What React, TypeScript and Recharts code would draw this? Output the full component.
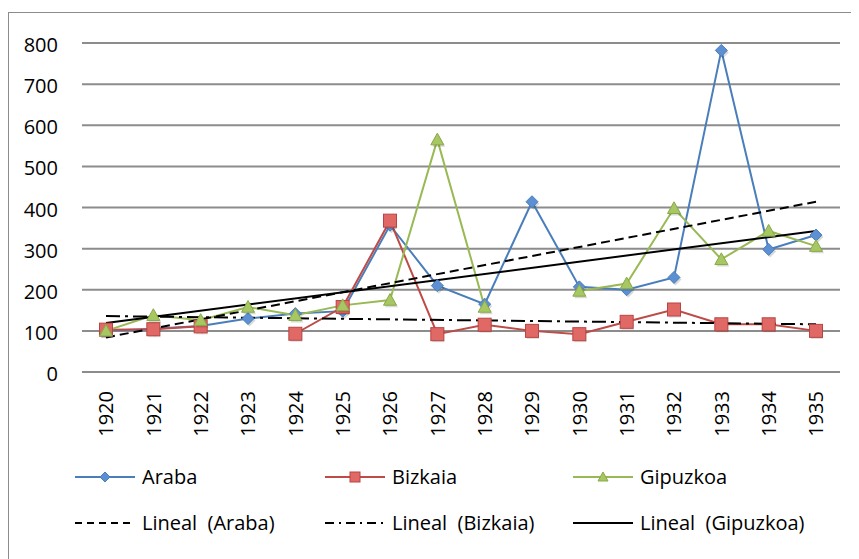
import React from "react";
import { LineChart, Line, XAxis, YAxis, CartesianGrid, ReferenceLine } from "recharts";

const years = [
  "1920", "1921", "1922", "1923", "1924", "1925", "1926", "1927",
  "1928", "1929", "1930", "1931", "1932", "1933", "1934", "1935",
];
const araba = [100, 105, 112, 130, 142, 148, 357, 210, 165, 414, 207, 200, 230, 782, 298, 333];
const bizkaia = [103, 104, 111, null, 93, 158, 368, 92, 115, 100, 92, 122, 152, 116, 116, 100];
const gipuzkoa = [100, 138, 126, 158, 138, 162, 175, 565, 158, null, 197, 215, 398, 274, 343, 306];
const yTicks = [0, 100, 200, 300, 400, 500, 600, 700, 800];

// trendline end points (first / last year)
const arabaTrend = [84, 414];
const bizkaiaTrend = [136, 116];
const gipuzkoaTrend = [119, 343];

const data = years.map((year, i) => ({
  year,
  araba: araba[i],
  bizkaia: bizkaia[i],
  gipuzkoa: gipuzkoa[i],
}));

const FONT = "'Open Sans', sans-serif";
const BLUE = "#4a7ebb";
const RED = "#be4b48";
const GREEN = "#98b954";

function diamond(cx: number, cy: number, r: number) {
  return `M${cx},${cy - r}L${cx + r},${cy}L${cx},${cy + r}L${cx - r},${cy}Z`;
}
function triangle(cx: number, cy: number, r: number) {
  return `M${cx},${cy - r}L${cx + r},${cy + r * 0.8}L${cx - r},${cy + r * 0.8}Z`;
}

const DiamondDot = (props: any) => {
  const { cx, cy, index } = props;
  if (cx == null || cy == null) return <g key={index} />;
  return (
    <g key={index}>
      <path d={diamond(cx + 1.5, cy + 2, 6)} fill="#000" opacity={0.15} />
      <path d={diamond(cx, cy, 6)} fill="#5d90d2" stroke={BLUE} strokeWidth={1} />
    </g>
  );
};

const SquareDot = (props: any) => {
  const { cx, cy, index } = props;
  if (cx == null || cy == null) return <g key={index} />;
  return (
    <g key={index}>
      <rect x={cx - 5} y={cy - 4} width={12} height={12} fill="#000" opacity={0.15} />
      <rect x={cx - 6.5} y={cy - 6.5} width={13} height={13} fill="#e06966" stroke="#b84542" strokeWidth={1} />
    </g>
  );
};

const TriangleDot = (props: any) => {
  const { cx, cy, index } = props;
  if (cx == null || cy == null) return <g key={index} />;
  return (
    <g key={index}>
      <path d={triangle(cx + 1.5, cy + 2, 6.5)} fill="#000" opacity={0.15} />
      <path d={triangle(cx, cy, 6.5)} fill="#a6c761" stroke="#8aa84a" strokeWidth={1} />
    </g>
  );
};

const YearTick = (props: any) => {
  const { x, y, payload } = props;
  return (
    <g transform={`translate(${x},${y})`}>
      <text
        transform="rotate(-90)"
        x={-11}
        dy="0.36em"
        textAnchor="end"
        fill="#000"
        fontSize={20}
        fontFamily={FONT}
      >
        {payload.value}
      </text>
    </g>
  );
};

const legendRows = [
  [
    { label: "Araba", kind: "diamond" },
    { label: "Bizkaia", kind: "square" },
    { label: "Gipuzkoa", kind: "triangle" },
  ],
  [
    { label: "Lineal  (Araba)", kind: "dash" },
    { label: "Lineal  (Bizkaia)", kind: "dashdot" },
    { label: "Lineal  (Gipuzkoa)", kind: "solid" },
  ],
];

function LegendIcon({ kind, x, y }: { kind: string; x: number; y: number }) {
  const mid = x + 30;
  if (kind === "diamond")
    return (
      <g>
        <line x1={x} x2={x + 60} y1={y} y2={y} stroke={BLUE} strokeWidth={2} />
        <path d={diamond(mid, y, 5)} fill="#5d90d2" stroke={BLUE} />
      </g>
    );
  if (kind === "square")
    return (
      <g>
        <line x1={x} x2={x + 60} y1={y} y2={y} stroke={RED} strokeWidth={2} />
        <rect x={mid - 5} y={y - 5} width={10} height={10} fill="#e06966" stroke="#b84542" />
      </g>
    );
  if (kind === "triangle")
    return (
      <g>
        <line x1={x} x2={x + 60} y1={y} y2={y} stroke={GREEN} strokeWidth={2} />
        <path d={triangle(mid, y, 5)} fill="#a6c761" stroke="#8aa84a" />
      </g>
    );
  const dash = kind === "dash" ? "7 5" : kind === "dashdot" ? "9 5 2 5" : undefined;
  return <line x1={x} x2={x + 60} y1={y} y2={y} stroke="#000" strokeWidth={2} strokeDasharray={dash} />;
}

function ChartLegend() {
  const cols = [66, 316, 564];
  const rows = [464, 510];
  return (
    <svg width={850} height={546} style={{ position: "absolute", left: 0, top: 0, pointerEvents: "none" }}>
      {legendRows.map((row, r) =>
        row.map((item, c) => (
          <g key={`${r}-${c}`}>
            <LegendIcon kind={item.kind} x={cols[c]} y={rows[r]} />
            <text
              x={cols[c] + 67}
              y={rows[r]}
              dy="0.36em"
              fontSize={20}
              fontFamily={FONT}
              fill="#000"
              style={{ whiteSpace: "pre" }}
            >
              {item.label}
            </text>
          </g>
        ))
      )}
    </svg>
  );
}

export default function App() {
  return (
    <div
      style={{
        position: "relative",
        marginTop: 4,
        width: 850,
        height: 546,
        borderTop: "1px solid #8c8c8c",
        borderLeft: "1px solid #8c8c8c",
        background: "#fff",
      }}
    >
      <LineChart width={850} height={546} data={data} margin={{ top: 30, right: 19, left: 0, bottom: 127 }}>
        <CartesianGrid vertical={false} stroke="#8c8c8c" strokeWidth={2} />
        <XAxis
          dataKey="year"
          axisLine={false}
          tickLine={false}
          interval={0}
          height={60}
          padding={{ left: 24, right: 24 }}
          tick={<YearTick />}
        />
        <YAxis
          domain={[0, 800]}
          ticks={yTicks}
          width={73}
          axisLine={false}
          tickLine={false}
          tickMargin={18}
          tick={{ fill: "#000", fontSize: 20, fontFamily: FONT, dy: 2 }}
        />
        <Line
          dataKey="araba"
          stroke={BLUE}
          strokeWidth={2}
          dot={DiamondDot}
          activeDot={false}
          isAnimationActive={false}
        />
        <Line
          dataKey="bizkaia"
          stroke={RED}
          strokeWidth={2}
          dot={SquareDot}
          activeDot={false}
          isAnimationActive={false}
        />
        <Line
          dataKey="gipuzkoa"
          stroke={GREEN}
          strokeWidth={2}
          dot={TriangleDot}
          activeDot={false}
          isAnimationActive={false}
        />
        <ReferenceLine
          segment={[
            { x: years[0], y: arabaTrend[0] },
            { x: years[years.length - 1], y: arabaTrend[1] },
          ]}
          stroke="#000"
          strokeWidth={2}
          strokeDasharray="9 5"
        />
        <ReferenceLine
          segment={[
            { x: years[0], y: bizkaiaTrend[0] },
            { x: years[years.length - 1], y: bizkaiaTrend[1] },
          ]}
          stroke="#000"
          strokeWidth={2}
          strokeDasharray="14 5 3 5"
        />
        <ReferenceLine
          segment={[
            { x: years[0], y: gipuzkoaTrend[0] },
            { x: years[years.length - 1], y: gipuzkoaTrend[1] },
          ]}
          stroke="#000"
          strokeWidth={2}
        />
      </LineChart>
      <ChartLegend />
    </div>
  );
}
